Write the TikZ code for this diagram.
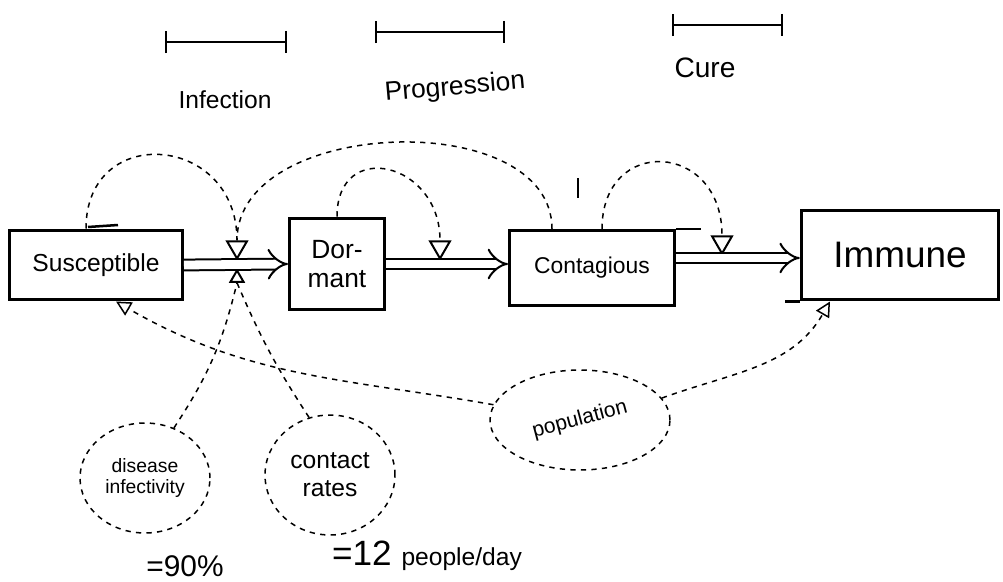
\documentclass[tikz,border=0pt]{standalone}
\usepackage{fontspec}
\setmainfont{Liberation Sans}
\usetikzlibrary{shapes.geometric,arrows.meta}

\begin{document}
\begin{tikzpicture}[x=0.02cm,y=-0.02cm,
  stock/.style={draw,line width=0.6mm,inner sep=2pt,align=center},
  aux/.style={draw,dashed,ellipse,line width=0.3mm,inner sep=0pt,align=center},
  valve/.style={draw,line width=0.4mm,regular polygon,regular polygon sides=3,inner sep=0pt},
  flow/.style={line width=0.4mm,double distance=5pt,-{Implies[scale=1.6]}},
  link/.style={dashed,line width=0.3mm},
  phase/.style={line width=0.4mm,{Bar[width=0.45cm]}-{Bar[width=0.45cm]}}]
\useasboundingbox (0,0) rectangle (1003,581);

\node[stock,minimum width=3.46cm,minimum height=1.4cm,font=\fontsize{14}{16}\selectfont] (sus) at (96,265) {Susceptible};
\node[stock,minimum width=1.9cm,minimum height=1.84cm,font=\fontsize{15}{17}\selectfont] (dor) at (337,264) {Dor-\\mant};
\node[stock,minimum width=3.3cm,minimum height=1.5cm,font=\fontsize{13}{15}\selectfont] (con) at (592,268) {Contagious};
\node[stock,minimum width=3.95cm,minimum height=1.8cm,font=\fontsize{21}{23}\selectfont] (imm) at (900,255) {Immune};

\node[valve,minimum size=0.46cm,shape border rotate=180] (v1) at (237,247) {};
\node[valve,minimum size=0.3cm] (v1b) at (237,278) {};
\node[valve,minimum size=0.46cm,shape border rotate=180] (v2) at (440,247) {};
\node[valve,minimum size=0.46cm,shape border rotate=180] (v3) at (722,242) {};

\draw[flow] (sus.east) -- (dor.west);
\draw[flow] (dor.east) -- (dor.east -| con.west);
\draw[flow] ([yshift=0.2cm]con.east) -- ([yshift=0.2cm]con.east -| imm.west);

\draw[line width=0.5mm] (88,227) -- (118,225);
\draw[line width=0.5mm] (con.north east) -- ++(25,0);
\draw[line width=0.5mm] (578,178) -- (578,198);
\draw[line width=0.5mm] (imm.south west) -- ++(-15,0);

\draw[link] ([xshift=-0.2cm]sus.north) to[out=90,in=90,looseness=1.8] (v1.north);
\draw[link] ([xshift=-0.8cm]con.north) to[out=90,in=90] (v1.north);
\draw[link] (dor.north) to[out=90,in=90,looseness=1.9] (v2.north);
\draw[link] ([xshift=0.2cm]con.north) to[out=90,in=90,looseness=2] (v3.north);

\node[aux,minimum width=2.6cm,minimum height=2.2cm,font=\fontsize{11}{12}\selectfont] (di) at (145,478) {disease\\infectivity};
\node[aux,minimum width=2.6cm,minimum height=2.4cm,font=\fontsize{14}{16}\selectfont] (cr) at (330,475) {contact\\rates};
\node[aux,minimum width=3.6cm,minimum height=2cm,font=\fontsize{12}{14}\selectfont] (pop) at (580,420) {\rotatebox{15}{population}};

\draw[link] (di.60) to[bend right=10] (v1b.south);
\draw[link] (cr.110) to[bend left=5] (v1b.south);
\draw[link,-{Triangle[open,length=0.3cm,width=0.3cm]}] (pop.170) to[out=170,in=-30] ([xshift=0.4cm]sus.south);
\draw[link,-{Triangle[open,length=0.3cm,width=0.3cm]}] (pop.15) to[out=20,in=-120] ([xshift=-1.4cm]imm.south);

\node (n90) at (185,566) {\fontsize{17}{18}\selectfont =90\%};
\node (n12) at (427,556) {\fontsize{20}{22}\selectfont =12 \fontsize{14}{16}\selectfont people/day};

\node (inf) at (225,100) {\fontsize{14}{16}\selectfont Infection};
\node[rotate=5] (prog) at (455,88) {\fontsize{15}{17}\selectfont Progression};
\node (cure) at (705,68) {\fontsize{16}{18}\selectfont Cure};
\draw[phase] (165,42) -- (287,42);
\draw[phase] (375,32) -- (505,32);
\draw[phase] (672,25) -- (783,25);
\end{tikzpicture}
\end{document}
